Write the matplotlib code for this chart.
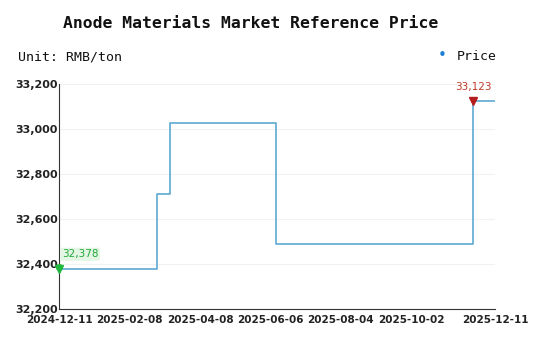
import numpy as np
import pandas as pd
import matplotlib.pyplot as plt
import matplotlib.dates as mdates
from matplotlib.ticker import FuncFormatter

# datos (escalones)
dates = ['2024-12-11', '2025-03-03', '2025-03-14', '2025-06-11', '2025-11-23', '2025-12-11']
prices = [32378, 32710, 33025, 32490, 33123, 33123]
tick_dates = ['2024-12-11', '2025-02-08', '2025-04-08', '2025-06-06', '2025-08-04', '2025-10-02', '2025-12-11']
y_ticks = [32200, 32400, 32600, 32800, 33000, 33200]

x = pd.to_datetime(dates)
line_color = '#5da9d3'

fig = plt.figure(figsize=(5.5, 3.56), dpi=100)
ax = fig.add_axes([0.1073, 0.132, 0.7927, 0.632])

ax.plot(x, prices, drawstyle='steps-post', color=line_color, lw=1.2)

# marcadores de inicio (min) y max
i_max = int(np.argmax(prices))
ax.plot(x[0], prices[0], marker='v', color='#1fb83c', ms=6, clip_on=False, zorder=5)
ax.plot(x[0], prices[0] + 8, marker='o', color='#1fb83c', ms=4, clip_on=False, zorder=5)
ax.annotate(f'{prices[0]:,}', (x[0], prices[0]), xytext=(2, 7), textcoords='offset points',
            color='#22a83a', fontsize=7.5, ha='left', va='bottom',
            bbox=dict(boxstyle='round,pad=0.15', fc='#e3f6e3', ec='none'))
ax.plot(x[i_max], prices[i_max], marker='v', color='#b51d1d', ms=6, zorder=5)
ax.annotate(f'{prices[i_max]:,}', (x[i_max], prices[i_max]), xytext=(0, 7), textcoords='offset points',
            color='#c0392b', fontsize=7.5, ha='center', va='bottom')

ax.set_ylim(32200, 33200)
ax.set_yticks(y_ticks)
ax.yaxis.set_major_formatter(FuncFormatter(lambda v, p: f'{int(v):,}'))
ax.set_xlim(x[0], x[-1])
ax.set_xticks(pd.to_datetime(tick_dates))
ax.xaxis.set_major_formatter(mdates.DateFormatter('%Y-%m-%d'))

for lab in ax.get_yticklabels():
    lab.set_fontsize(8)
    lab.set_fontweight('bold')
    lab.set_color('#222222')
for lab in ax.get_xticklabels():
    lab.set_fontsize(7.5)
    lab.set_fontweight('bold')
    lab.set_color('#222222')

ax.tick_params(axis='y', length=0, pad=1)
ax.tick_params(axis='x', length=0, pad=4)
ax.grid(axis='y', color='#f2f2f2', lw=0.8)
for s in ['top', 'right']:
    ax.spines[s].set_visible(False)
ax.spines['left'].set_color('#333333')
ax.spines['bottom'].set_color('#333333')

fig.text(0.455, 0.935, 'Anode Materials Market Reference Price', family='DejaVu Sans Mono',
         fontsize=11.8, fontweight='bold', ha='center', va='center', color='#111111')
fig.text(0.033, 0.84, 'Unit: RMB/ton', family='DejaVu Sans Mono', fontsize=9.5,
         ha='left', va='center', color='#111111')
fig.text(0.804, 0.845, '\u2022', color='#1e7fd6', fontsize=11, ha='center', va='center')
fig.text(0.83, 0.84, 'Price', family='DejaVu Sans Mono', fontsize=9.5,
         ha='left', va='center', color='#111111')

plt.savefig('out.png', dpi=100)
